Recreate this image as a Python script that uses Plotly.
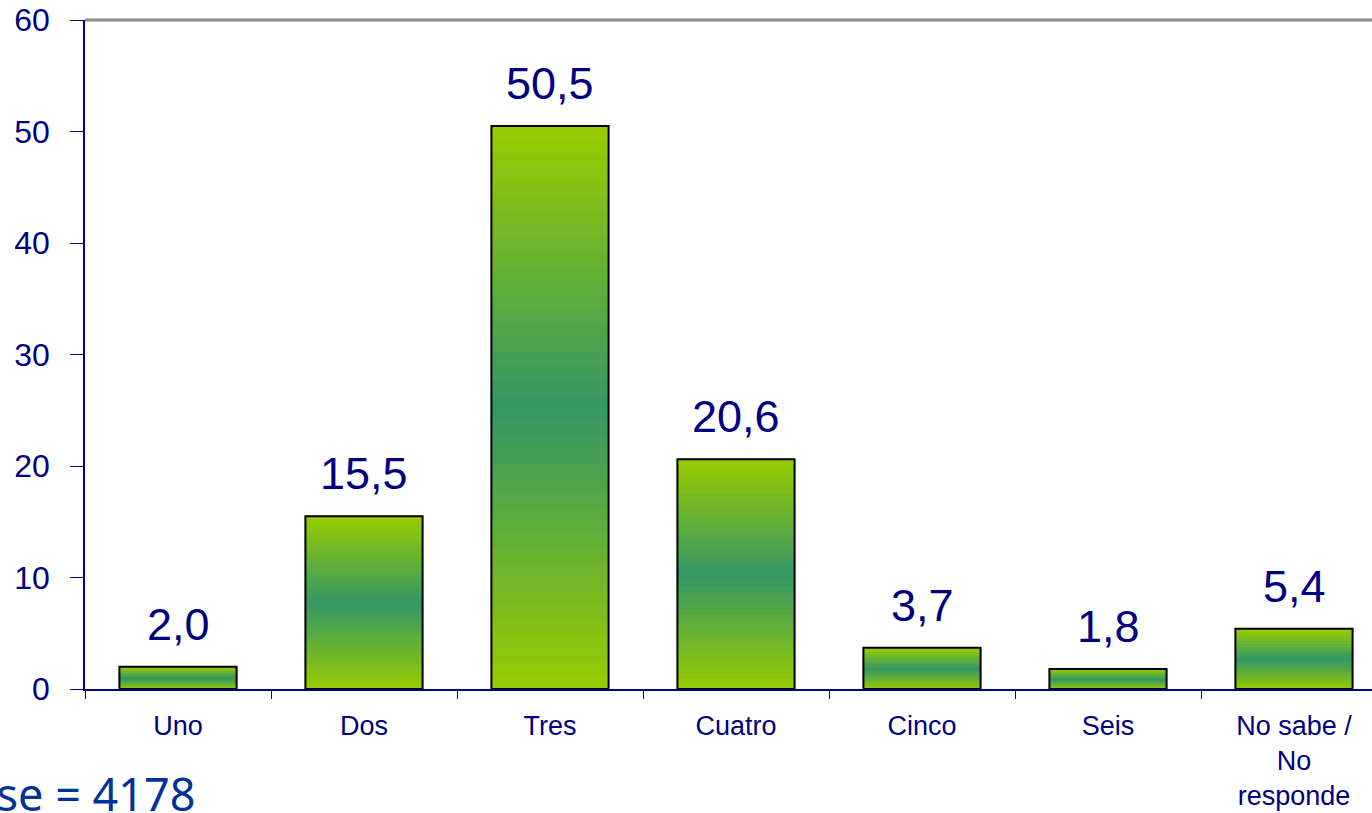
import plotly.graph_objects as go

categories = ["Uno", "Dos", "Tres", "Cuatro", "Cinco", "Seis", "No sabe /<br>No<br>responde"]
values = [2.0, 15.5, 50.5, 20.6, 3.7, 1.8, 5.4]
value_labels = ["2,0", "15,5", "50,5", "20,6", "3,7", "1,8", "5,4"]
y_ticks = [0, 10, 20, 30, 40, 50, 60]
base_text = "Base = 4178"

NAVY = "#000080"
N_BANDS = 40
BAR_W = 0.63


def lerp(c1, c2, t):
    return tuple(round(a + (b - a) * t) for a, b in zip(c1, c2))


LIGHT = (153, 204, 0)
DARK = (51, 151, 102)

x_idx = list(range(len(categories)))

fig = go.Figure()

for k in range(N_BANDS):
    frac_mid = (k + 0.5) / N_BANDS
    t = 1 - abs(frac_mid - 0.5) * 2  # 0 at edges, 1 at middle
    col = "rgb(%d,%d,%d)" % lerp(LIGHT, DARK, t)
    fig.add_trace(go.Bar(
        x=x_idx,
        y=[v / N_BANDS for v in values],
        base=[v * k / N_BANDS for v in values],
        width=BAR_W,
        marker=dict(color=col, line=dict(width=1, color=col)),
        hoverinfo="skip",
        showlegend=False,
    ))

# outline
fig.add_trace(go.Bar(
    x=x_idx,
    y=values,
    width=BAR_W,
    marker=dict(color="rgba(0,0,0,0)", line=dict(color="black", width=2)),
    showlegend=False,
))

W, H = 1372, 813
ML, MT, MB = 85, 20, 124
PW = W - ML
PH = H - MT - MB

for xi, v, lab in zip(x_idx, values, value_labels):
    fig.add_annotation(
        x=xi, y=v, xref="x", yref="y", text=lab, showarrow=False,
        yanchor="bottom", yshift=15,
        font=dict(family="Liberation Sans, Arial", size=45, color=NAVY),
    )

fig.add_annotation(
    x=(198 - ML) / PW, y=(689 - 793) / PH, xref="paper", yref="paper",
    text=base_text, showarrow=False, xanchor="right", yanchor="middle",
    font=dict(family="Noto Sans", size=45, color="#003399"),
)

# top border
fig.add_shape(type="line", xref="paper", yref="paper", x0=0, x1=1, y0=1, y1=1,
              line=dict(color="#8c8c8c", width=3))

fig.update_layout(
    width=W, height=H,
    margin=dict(l=ML, r=0, t=MT, b=MB, autoexpand=False),
    barmode="overlay",
    plot_bgcolor="white", paper_bgcolor="white",
    font=dict(family="Liberation Sans, Arial", color=NAVY),
)

fig.update_xaxes(
    tickmode="array", tickvals=x_idx, ticktext=categories,
    range=[-0.5, -0.5 + PW / 186],
    automargin=False,
    showgrid=False, zeroline=False,
    showline=True, linecolor=NAVY, linewidth=1.5,
    ticks="", tickfont=dict(size=27, color=NAVY),
    ticklabelstandoff=12,
    minor=dict(tickmode="array",
               tickvals=[i - 0.5 for i in x_idx] + [len(categories) - 0.5],
               ticks="outside", ticklen=8, tickcolor=NAVY),
)

fig.update_yaxes(
    range=[0, 60], tickmode="array", tickvals=y_ticks,
    automargin=False,
    showgrid=False, zeroline=False,
    showline=True, linecolor=NAVY, linewidth=1.5,
    ticks="outside", ticklen=13, tickcolor=NAVY,
    tickfont=dict(size=32, color=NAVY),
    ticklabelstandoff=14,
    ticklabeloverflow="allow",
)

fig.write_html(
    "out.html",
    config={"displayModeBar": False},
    post_script="document.body.style.margin='0';document.body.style.overflow='hidden';",
)
